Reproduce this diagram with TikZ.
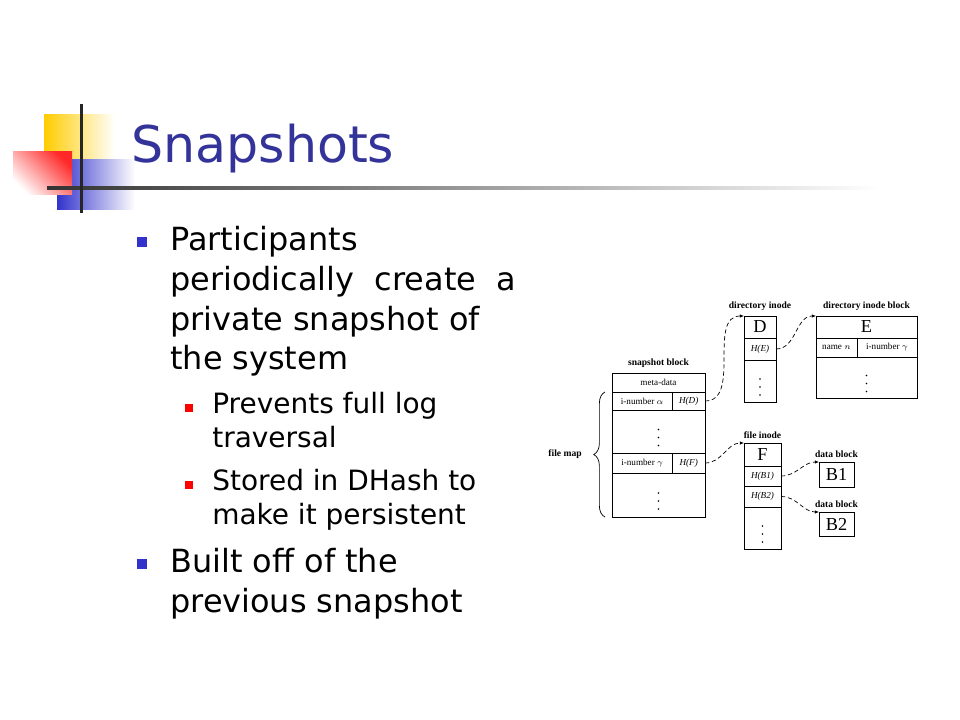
\documentclass[tikz,border=0pt]{standalone}
\usepackage{fontspec}
\setmainfont{Liberation Serif}
\newfontfamily\slidefont{DejaVu Sans}
\usetikzlibrary{arrows.meta,positioning,calc,decorations.pathreplacing}
\definecolor{titleblue}{RGB}{51,51,153}
\definecolor{bulletblue}{RGB}{51,51,204}
\definecolor{bulletred}{RGB}{255,0,0}
\definecolor{logoyellow}{RGB}{255,204,0}
\definecolor{logored}{RGB}{255,40,40}

\begin{document}
\begin{tikzpicture}[x=0.025cm, y=-0.025cm,
    cell/.style={rectangle, draw, line width=0.5pt, inner sep=0pt, outer sep=0pt, font=\fontsize{6.5}{7}\selectfont},
    big/.style={cell, font=\fontsize{13}{14}\selectfont},
    lbl/.style={inner sep=0pt, font=\fontsize{6.8}{8}\selectfont\bfseries},
    link/.style={densely dashed, line width=0.5pt, -{Latex[length=3pt,width=2.5pt]}},
    item/.style={anchor=base west, align=left, inner sep=0pt, font=\slidefont\fontsize{22.7}{28.4}\selectfont},
    subitem/.style={item, font=\slidefont\fontsize{19.9}{24.8}\selectfont},
    bulletsq/.style={rectangle, fill=bulletblue, inner sep=0pt, minimum size=0.25cm},
    subsq/.style={rectangle, fill=bulletred, inner sep=0pt, minimum size=0.22cm}
]
    \useasboundingbox (0,0) rectangle (960,720);
    \fill[white] (0,0) rectangle (960,720);

    % Logo
    \shade[left color=logoyellow, middle color=logoyellow, right color=white] (44,115) rectangle (115,165);
    \shade[left color=bulletblue, middle color=bulletblue, right color=white] (57,160) rectangle (135,210);
    \shade[top color=logored, middle color=logored!40, bottom color=white, shading angle=-45] (13,152) rectangle (72,195);
    \shade[left color=black!80, right color=white] (47,186.5) rectangle (880,189.5);
    \fill[black!85] (80,104) rectangle (82.5,213);

    % Title
    \node[anchor=base west, inner sep=0pt, text=titleblue, font=\slidefont\fontsize{36}{40}\selectfont] (title) at (131,163) {Snapshots};

    % Bullets (multi-line nodes sit on their last baseline)
    \node[bulletsq] (b1) at (142,242) {};
    \node[item] (p1) at (170,370) {Participants\\periodically\ \ create\ \ a\\private snapshot of\\the system};
    \node[subsq] (r1) at (189,408) {};
    \node[subitem] (s1) at (212,448) {Prevents full log\\traversal};
    \node[subsq] (r2) at (189,485) {};
    \node[subitem] (s2) at (212,525) {Stored in DHash to\\make it persistent};
    \node[bulletsq] (b2) at (142,564) {};
    \node[item] (p2) at (170,612) {Built off of the\\previous snapshot};

    % Snapshot block
    \node[cell, minimum width=2.325cm, minimum height=0.475cm] (meta) at (658.5,382.5) {meta-data};
    \node[cell, anchor=north west, minimum width=1.51cm, minimum height=0.45cm] (inoA) at (meta.south west) {i-number $\alpha$};
    \node[cell, anchor=north west, minimum width=0.815cm, minimum height=0.45cm] (hashD) at (inoA.north east) {\textit{H(D)}};
    \node[cell, anchor=north west, minimum width=2.325cm, minimum height=1.075cm] (gapA) at (inoA.south west) {};
    \node[cell, anchor=north west, minimum width=1.51cm, minimum height=0.5cm] (inoG) at (gapA.south west) {i-number $\gamma$};
    \node[cell, anchor=north west, minimum width=0.815cm, minimum height=0.5cm] (hashF) at (inoG.north east) {\textit{H(F)}};
    \node[cell, anchor=north west, minimum width=2.325cm, minimum height=1.1cm] (gapB) at (inoG.south west) {};
    \node[lbl, above=3.5pt of meta] (snaplbl) {snapshot block};

    \draw[line width=0.5pt, decorate, decoration={brace, amplitude=8pt}] ($(gapB.south west)+(-7,0)$) -- ($(inoA.north west)+(-7,0)$);
    \node[lbl] (maplbl) at (565,454) {file map};

    % Directory inode
    \node[big, minimum width=0.8cm, minimum height=0.55cm] (dirD) at (760,327) {D};
    \node[cell, anchor=north, minimum width=0.8cm, minimum height=0.55cm] (hashE) at (dirD.south) {\textit{H(E)}};
    \node[cell, anchor=north, minimum width=0.8cm, minimum height=1.05cm] (dgap) at (hashE.south) {};
    \node[lbl, above=3.5pt of dirD] (dirlbl) {directory inode};

    % Directory inode block
    \node[big, minimum width=2.525cm, minimum height=0.55cm] (dirE) at (866.5,327) {E};
    \node[cell, anchor=north west, minimum width=1.025cm, minimum height=0.475cm] (nameN) at (dirE.south west) {name $n$};
    \node[cell, anchor=north west, minimum width=1.5cm, minimum height=0.475cm] (inoE) at (nameN.north east) {i-number $\gamma$};
    \node[cell, anchor=north west, minimum width=2.525cm, minimum height=1.025cm] (egap) at (nameN.south west) {};
    \node[lbl, above=3.5pt of dirE] (blklbl) {directory inode block};

    % File inode
    \node[big, minimum width=0.925cm, minimum height=0.575cm] (fileF) at (762.5,454.5) {F};
    \node[cell, anchor=north, minimum width=0.925cm, minimum height=0.5cm] (hashB1) at (fileF.south) {\textit{H(B1)}};
    \node[cell, anchor=north, minimum width=0.925cm, minimum height=0.525cm] (hashB2) at (hashB1.south) {\textit{H(B2)}};
    \node[cell, anchor=north, minimum width=0.925cm, minimum height=1.05cm] (fgap) at (hashB2.south) {};
    \node[lbl, above=3pt of fileF] (filelbl) {file inode};

    % Data blocks
    \node[big, minimum width=0.875cm, minimum height=0.625cm] (blkB1) at (836.5,474.5) {B1};
    \node[lbl, above=3pt of blkB1] (datalbl1) {data block};
    \node[big, minimum width=0.875cm, minimum height=0.6cm] (blkB2) at (836.5,524) {B2};
    \node[lbl, above=3pt of blkB2] (datalbl2) {data block};

    % Dots
    \foreach \c in {gapA, gapB, dgap, egap, fgap}
        \foreach \k in {-8,0,8}
            \fill ($(\c.center)+(0,6+\k)$) circle (0.6pt);

    % Pointers
    \draw[link] (hashD.east) to[out=0, in=180] (dirD.north west);
    \draw[link] (hashE.east) to[out=0, in=180] (dirE.north west);
    \draw[link] (hashF.east) to[out=0, in=180] (fileF.north west);
    \draw[link] (hashB1.east) to[out=0, in=180] (blkB1.north west);
    \draw[link] (hashB2.east) to[out=0, in=180] (blkB2.north west);
\end{tikzpicture}
\end{document}
